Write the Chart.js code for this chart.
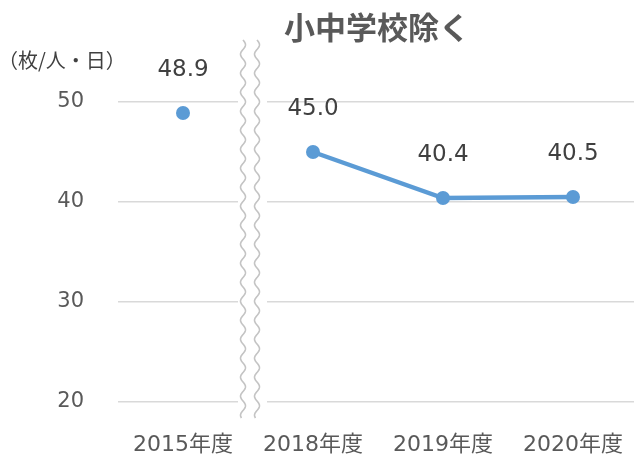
<!DOCTYPE html>
<html>
<head>
<meta charset="utf-8">
<script src="https://cdn.jsdelivr.net/npm/chart.js@4"></script>
<style>
  body { margin: 0; background: #fff; overflow: hidden; }
  #wrap { width: 634px; height: 454px; overflow: hidden; }
</style>
</head>
<body>
<div id="wrap"><canvas id="myChart" width="638" height="454"></canvas></div>
<script>
// datos
const categorias = ['2015年度', '2018年度', '2019年度', '2020年度'];
const valores = [48.9, 45.0, 40.4, 40.5];
const ticksY = [20, 30, 40, 50];

const fuente = "'DejaVu Sans', 'Noto Sans CJK JP', sans-serif";
const gris = '#595959';
const azul = '#5B9BD5';

// textos, etiquetas y el corte ondulado
const extras = {
    id: 'extras',
    beforeDatasetsDraw(chart) {
        const { ctx, chartArea, scales } = chart;
        const xm = (scales.x.getPixelForValue(0) + scales.x.getPixelForValue(1)) / 2;
        ctx.save();
        // tapar la cuadricula en el corte
        ctx.fillStyle = '#fff';
        ctx.fillRect(xm - 10, chartArea.top - 70, 29, chartArea.bottom - chartArea.top + 90);
        ctx.strokeStyle = '#C4C4C4';
        ctx.lineWidth = 1.6;
        [xm - 5, xm + 9].forEach(x0 => {
            ctx.beginPath();
            for (let y = 40; y <= 418; y += 1) {
                const x = x0 + 2.5 * Math.sin((y - 40) / 19 * Math.PI * 2);
                if (y === 40) ctx.moveTo(x, y); else ctx.lineTo(x, y);
            }
            ctx.stroke();
        });
        ctx.restore();
    },
    afterDatasetsDraw(chart) {
        const { ctx } = chart;
        const meta = chart.getDatasetMeta(0);
        ctx.save();
        ctx.fillStyle = '#404040';
        ctx.font = '23px ' + fuente;
        ctx.textAlign = 'center';
        ctx.textBaseline = 'middle';
        meta.data.forEach((p, i) => {
            ctx.fillText(valores[i].toFixed(1), p.x, p.y - 43);
        });
        // titulo
        ctx.fillStyle = gris;
        ctx.font = "bold 31px 'Noto Sans CJK JP', sans-serif";
        ctx.fillText('小中学校除く', 377, 27);
        // unidad
        ctx.font = "20px 'Noto Sans CJK JP', sans-serif";
        ctx.textAlign = 'left';
        ctx.fillStyle = '#404040';
        ctx.fillText('（枚/人・日）', -2, 60);
        ctx.restore();
    }
};

const data = {
    labels: categorias,
    datasets: [{
        data: valores,
        borderColor: azul,
        backgroundColor: azul,
        borderWidth: 4.5,
        pointRadius: 7,
        pointBorderWidth: 0,
        pointBackgroundColor: azul,
        tension: 0,
        clip: false,
        segment: {
            borderColor: c => c.p0DataIndex === 0 ? 'rgba(0,0,0,0)' : azul // 2015 va suelto
        }
    }]
};

const options = {
    responsive: false,
    animation: false,
    layout: { autoPadding: false, padding: { top: 102, right: 0, bottom: 0, left: 0 } },
    plugins: {
        legend: { display: false },
        tooltip: { enabled: false }
    },
    scales: {
        x: {
            offset: true,
            grid: { display: false },
            border: { display: false },
            ticks: { color: gris, font: { size: 22, family: fuente }, padding: 22 },
            afterFit: s => { s.height = 52; s.paddingLeft = 0; s.paddingRight = 0; }
        },
        y: {
            min: 20,
            max: 50,
            afterBuildTicks: s => { s.ticks = ticksY.map(v => ({ value: v })); },
            grid: { color: '#D9D9D9', lineWidth: 1.5, drawTicks: false },
            border: { display: false },
            ticks: { color: gris, font: { size: 21, family: fuente }, padding: 34 },
            afterFit: s => { s.width = 118; }
        }
    }
};

const config = { type: 'line', data, options, plugins: [extras] };

const myChart = new Chart(document.getElementById('myChart').getContext('2d'), config);
</script>
</body>
</html>
